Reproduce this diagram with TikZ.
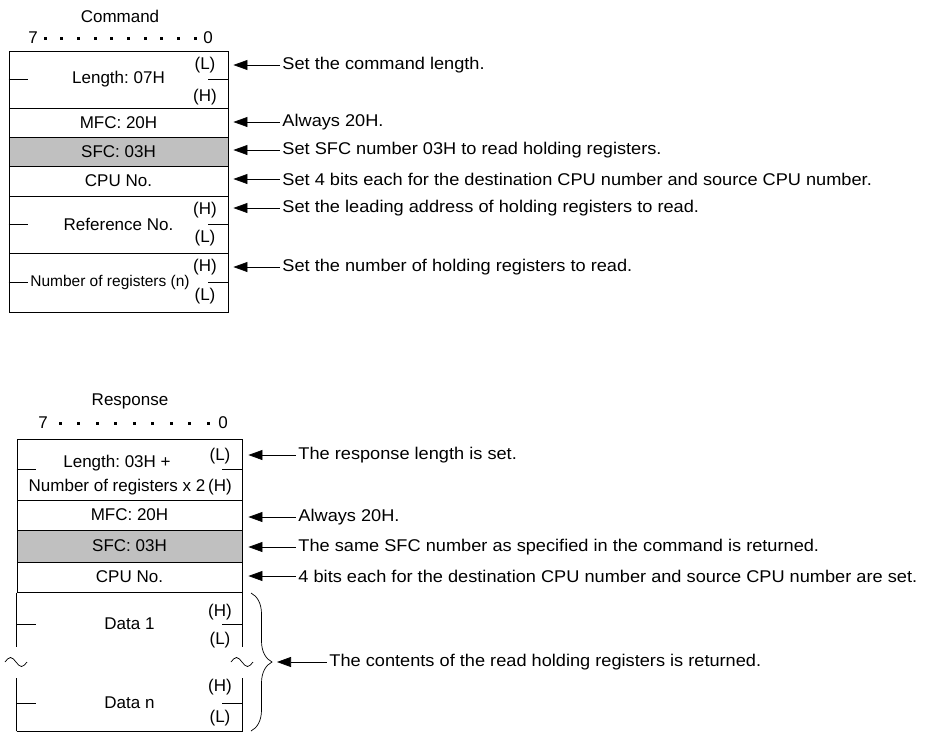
\documentclass[tikz,border=0pt]{standalone}
\usepackage{fontspec}
\setmainfont{Liberation Sans}
\newfontfamily\descfont{Liberation Sans}[FakeStretch=1.07]
\usepackage{tikz}
\usetikzlibrary{arrows.meta,positioning,calc,decorations.pathreplacing}
\definecolor{sfcgray}{RGB}{192,192,192}
\frenchspacing

\begin{document}
\begin{tikzpicture}[x=1pt, y=-1pt, >={Triangle[length=14pt,width=10pt]},
  font=\fontsize{17}{24}\selectfont,
  line width=0.9pt,
  crow/.style={draw, minimum width=219pt, inner sep=0pt},
  rrow/.style={draw, minimum width=225pt, inner sep=0pt},
  hl/.style={inner sep=0pt},
  desc/.style={anchor=west, inner sep=2pt, font=\descfont\fontsize{17}{20}\selectfont},
  arr/.style={<-, line width=0.7pt},
  bitdot/.style={fill, minimum size=3pt, inner sep=0pt}]
\useasboundingbox (0,0) rectangle (935,734);

% ---- Command ----
\node (cTitle) at (120,16) {Command};
\node (c7) at (33,38) {7};
\node (c0) at (208,38) {0};
\foreach \i in {0,...,9}
  \node[bitdot] (cdot\i) at (45+\i*16.7,38) {};

\node[crow, minimum height=57pt] (cLen) at (118.5,79.5) {Length: 07H};
\node[crow, minimum height=29pt] (cMfc) at (118.5,122.5) {MFC: 20H};
\node[crow, minimum height=29pt, fill=sfcgray] (cSfc) at (118.5,151.5) {SFC: 03H};
\node[crow, minimum height=30pt] (cCpu) at (118.5,181) {CPU No.};
\node[crow, minimum height=57pt] (cRef) at (118.5,224.5) {Reference No.};
\node[crow, minimum height=59pt] (cNum) at (118.5,282.5) {};
\node[inner sep=1.5pt, font=\fontsize{15.5}{18}\selectfont] (cNumTxt) at (110,282.5) {Number of registers (n)};

\node[hl] (cLenL) at (205,65) {(L)};
\node[hl] (cLenH) at (205,97) {(H)};
\node[hl] (cRefH) at (205,210) {(H)};
\node[hl] (cRefL) at (205,238) {(L)};
\node[hl] (cNumH) at (205,267) {(H)};
\node[hl] (cNumL) at (205,296) {(L)};
\foreach \n in {cLen,cRef}{
  \draw (\n.west) -- ++(19,0);
  \draw (\n.east) -- ++(-20,0);
}
\draw (cNum.west) -- (cNumTxt.west);
\draw (cNum.east) -- ++(-20,0);

\node[desc] (dLen) at (280,65) {Set the command length.};
\node[desc] (dMfc) at (280,122) {Always 20H.};
\node[desc] (dSfc) at (280,150) {Set SFC number 03H to read holding registers.};
\node[desc] (dCpu) at (280,179) {Set 4 bits each for the destination CPU number and source CPU number.};
\node[desc] (dRef) at (280,208) {Set the leading address of holding registers to read.};
\node[desc] (dNum) at (280,267) {Set the number of holding registers to read.};
\foreach \d in {dLen,dMfc,dSfc,dCpu,dRef,dNum}
  \draw[arr, shorten <=5pt] (\d.west -| cLen.east) -- (\d.west);

% ---- Response ----
\node (rTitle) at (130,401) {Response};
\node (r7) at (43,423) {7};
\node (r0) at (223,423) {0};
\foreach \i in {0,...,8}
  \node[bitdot] (rdot\i) at (60+\i*18.5,423) {};

\node[rrow, minimum height=61pt] (rLen) at (129.5,469.5) {};
\node[align=center, inner sep=0pt] (rLenTxt) at (117,475) {Length: 03H +\\Number of registers x 2};
\node[rrow, minimum height=30pt] (rMfc) at (129.5,515) {MFC: 20H};
\node[rrow, minimum height=32pt, fill=sfcgray] (rSfc) at (129.5,546) {SFC: 03H};
\node[rrow, minimum height=30pt] (rCpu) at (129.5,577) {CPU No.};
\node[rrow, draw=none, minimum height=62pt] (rD1) at (129.5,624) {Data 1};
\node[rrow, draw=none, minimum height=56pt] (rDn) at (129.5,703) {Data n};

\node[hl] (rLenL) at (220,456) {(L)};
\node[hl] (rLenH) at (220,487) {(H)};
\node[hl] (rD1H) at (220,612) {(H)};
\node[hl] (rD1L) at (220,640) {(L)};
\node[hl] (rDnH) at (220,687) {(H)};
\node[hl] (rDnL) at (220,718) {(L)};
\foreach \n in {rLen,rD1,rDn}{
  \draw (\n.west) -- ++(19,0);
  \draw (\n.east) -- ++(-20,0);
}

% data block, broken sides
\draw (rD1.north west) -- ++(0,54);
\draw (rD1.north east) -- ++(0,54);
\draw (rDn.south west) -- ++(0,-53) (rDn.south west) -- (rDn.south east) -- ++(0,-53);
\draw[line width=0.7pt] (5,662) sin (10.5,657.5) cos (16,662) sin (21.5,666.5) cos (27,662);
\draw[line width=0.7pt] (231,662) sin (236.5,657.5) cos (242,662) sin (247.5,666.5) cos (253,662);

\draw[line width=0.7pt, decorate, decoration={brace, amplitude=21pt}]
  (251,593) -- (251,731);
\coordinate (bTip) at (272,662);

\node[desc] (rdLen) at (296,455) {The response length is set.};
\node[desc] (rdMfc) at (296,517) {Always 20H.};
\node[desc] (rdSfc) at (296,547) {The same SFC number as specified in the command is returned.};
\node[desc] (rdCpu) at (296,576) {4 bits each for the destination CPU number and source CPU number are set.};
\foreach \d in {rdLen,rdMfc,rdSfc,rdCpu}
  \draw[arr, shorten <=6pt] (\d.west -| rLen.east) -- (\d.west);

\node[desc] (rdDat) at (327,662) {The contents of the read holding registers is returned.};
\draw[arr, shorten <=5pt] (bTip) -- (rdDat.west);
\end{tikzpicture}
\end{document}
